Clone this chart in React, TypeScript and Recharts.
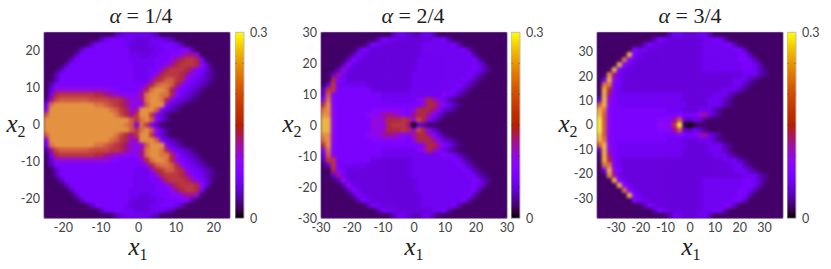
import { ScatterChart, Scatter, XAxis, YAxis, ReferenceArea, BarChart, Bar, ReferenceLine } from 'recharts'

// each char is one heatmap cell, in hundredths (base 36: 0 = 0.00, u = 0.30)
const rowsQuarter = [
  '2222222222222245666665422222222222222',
  '2222222222246777665556665422222222222',
  '2222222224777777655556677764222222222',
  '2222222477777777755555667778842222222',
  '2222224777777777766556677889cca222222',
  '22222477777777777666667779cegge722222',
  '2222477777777777776666779ceggge952222',
  '22247777777777777766677aegggec8753222',
  '2247777777777777776667aegggec87643222',
  '224777777777777777666aegkkge976543222',
  '24777777777777777777aekmmke9765432222',
  '25aaaaaaaaaaa887777aemoome97654322222',
  '27egggggggeecca9989cmoomme96543222222',
  '3cikkkkkkiiiiggeca9cmoome865432222222',
  '6moooooooommkigeca9akooo8543222222222',
  'aoooooooooooomkgeacoook75432222222222',
  'kooooooooooooomiecgoog853222222222222',
  'oooooooooooooooookgmok953222222222222',
  'oooooooooooooooomk6mg7422222222222222',
  'oooooooooooooooookgmok953222222222222',
  'kooooooooooooomiecgoog853222222222222',
  'aoooooooooooomkgeacoook75432222222222',
  '6moooooooommkigeca9akooo8543222222222',
  '3cikkkkkkiiiiggeca9cmoome865432222222',
  '27egggggggeecca9989cmoomme96543222222',
  '25aaaaaaaaaaa887777aemoome97654322222',
  '24777777777777777777aekmmke9765432222',
  '224777777777777777666aegkkge976543222',
  '2247777777777777776667aegggec87643222',
  '22247777777777777766677aegggec8753222',
  '2222477777777777776666779ceggge952222',
  '22222477777777777666667779cegge722222',
  '2222224777777777766556677889cca222222',
  '2222222477777777755555667778842222222',
  '2222222224777777655556677764222222222',
  '2222222222246777665556665422222222222',
  '2222222222222245666665422222222222222',
]

const rowsHalf = [
  '2222222222222246654466422222222222222',
  '2222222222247665555555667422222222222',
  '2222222224765555555566666674222222222',
  '2222222476555555555566666666742222222',
  '2222224765555555555566666666674222222',
  '2222248655555555555666666666667422222',
  '2222496555555555555666666666667642222',
  '2224a65555555555555666666666667643222',
  '225c755555555555556666666666676432222',
  '22e8755555555555556666666666764322222',
  '25g7666665555555556666666667643222222',
  '4gg7777777555555556666666676432222222',
  '5k87777777776666666666668764322222222',
  '9m877777777766666668aec86432222222222',
  'go877777777777777777aeec8643222222222',
  'mo97777777888888879eeec85432222222222',
  'oo9777777999ccca98ceec853222222222222',
  'qq97777777aaaeeegeaie8532222222222222',
  'qq97777777aaaegggc0542222222222222222',
  'qq97777777aaaeeegeaie8532222222222222',
  'oo9777777999ccca98ceec853222222222222',
  'mo97777777888888879eeec85432222222222',
  'go877777777777777777aeec8643222222222',
  '9m877777777766666668aec86432222222222',
  '5k87777777776666666666668764322222222',
  '4gg7777777555555556666666676432222222',
  '25g7666665555555556666666667643222222',
  '22e8755555555555556666666666764322222',
  '225c755555555555556666666666676432222',
  '2224a65555555555555666666666667643222',
  '2222496555555555555666666666667642222',
  '2222248655555555555666666666667422222',
  '2222224765555555555566666666674222222',
  '2222222476555555555566666666742222222',
  '2222222224765555555566666674222222222',
  '2222222222247665555555667422222222222',
  '2222222222222246654466422222222222222',
]

const rowsThreeQuarter = [
  '2222222222222246655566422222222222222',
  '2222222222247655555556677422222222222',
  '2222222224765555555556666774222222222',
  '2222222866555555555556666667742222222',
  '222222q765555555555556666666774222222',
  '22222m8655555555555556666666776422222',
  '2222q86555555555555556666666677642222',
  '222q765555555555555556666666677643222',
  '22oc655555555555555555555555566643222',
  '26q9755555555555555555555556664322222',
  '2mm7655555555555555555555556643222222',
  '2qe7655555555555555555555666432222222',
  '2qc7666666666666655555566643222222222',
  '4qa7666666666666655555666432222222222',
  'kq97666666666666665555666432222222222',
  'qm87777777777766655566643222222222222',
  'rk877777777777778777ac643222222222222',
  'tk877777777788 8ck54653222222222222222'.replace(' ', ''),
  'tk877777777799 9gt1012222222222222222'.replace(' ', ''),
  'tk877777777788 8ck54653222222222222222'.replace(' ', ''),
  'rk877777777777778777ac643222222222222',
  'qm87777777777766655566643222222222222',
  'kq97666666666666665555666432222222222',
  '4qa7666666666666655555666432222222222',
  '2qc7666666666666655555566643222222222',
  '2qe7655555555555555555555666432222222',
  '2mm7655555555555555555555556643222222',
  '26q9755555555555555555555556664322222',
  '22oc655555555555555555555555566643222',
  '222q765555555555555556666666677643222',
  '2222q86555555555555556666666677642222',
  '22222m8655555555555556666666776422222',
  '222222q765555555555556666666774222222',
  '2222222866555555555556666667742222222',
  '2222222224765555555556666774222222222',
  '2222222222247655555556677422222222222',
  '2222222222222246655566422222222222222',
]

const ticksQuarter = [-20, -10, 0, 10, 20]
const ticksHalf = [-30, -20, -10, 0, 10, 20, 30]
const ticksThreeQuarter = [-30, -20, -10, 0, 10, 20, 30]
const colorbarTicks = [0, 0.3]
const colorbarMinor = [0.05, 0.1, 0.15, 0.2, 0.25]
const colorbarStops = [0, 0.01, 0.02, 0.03, 0.04, 0.05, 0.06, 0.075, 0.09, 0.105, 0.12, 0.135, 0.15, 0.18, 0.21, 0.24, 0.27, 0.3]

const CB_MAX = 0.3
const GRID = 37
const PLOT = 186
const TOP = 32.3

// gnuplot rgbformulae 7,5,15
function paletteColor(v: number, tint = false) {
  const g = Math.min(1, Math.max(0, v / CB_MAX))
  const r = Math.sqrt(g)
  let gr = g * g * g
  let b = Math.max(0, Math.sin(2 * Math.PI * g))
  // the plotted cells look washed out in the hot part, the colorbar does not
  if (tint && g > 0.42) {
    b = Math.max(b, 0.26)
    gr = Math.min(1, gr + 0.06)
  }
  const hex = (n: number) => Math.round(n * 255).toString(16).padStart(2, '0')
  return `#${hex(r)}${hex(gr)}${hex(b)}`
}

function toCells(rows: string[], xDomain: number[], yDomain: number[]) {
  const dx = (xDomain[1] - xDomain[0]) / GRID
  const dy = (yDomain[1] - yDomain[0]) / GRID
  const cells: { x: number; y: number; v: number }[] = []
  rows.forEach((row, r) => {
    row.padEnd(GRID, '2').slice(0, GRID).split('').forEach((ch, c) => {
      cells.push({ x: xDomain[0] + (c + 0.5) * dx, y: yDomain[1] - (r + 0.5) * dy, v: parseInt(ch, 36) / 100 })
    })
  })
  return cells
}

const tickStyle = { fontFamily: 'Lato', fontSize: 12.5, fill: '#444' }

function HeatCell(props: any) {
  const w = PLOT / GRID + 0.6
  return <rect x={props.cx - w / 2} y={props.cy - w / 2} width={w} height={w} fill={paletteColor(props.payload.v, true)} />
}

function Panel({ left, rows, xDomain, yDomain, ticks, xTicks }: any) {
  const cells = toCells(rows, xDomain, yDomain)
  return (
    <div style={{ position: 'absolute', left: left - 40, top: 0 }}>
      <ScatterChart width={40 + PLOT + 10} height={269} margin={{ top: TOP, right: 10, bottom: 269 - TOP - PLOT - 24, left: 0 }}>
        <XAxis type="number" dataKey="x" domain={xDomain} ticks={xTicks || ticks} allowDataOverflow interval={0} height={24} tick={tickStyle} tickLine={false} tickSize={0} axisLine={false} tickMargin={5} />
        <YAxis type="number" dataKey="y" domain={yDomain} ticks={ticks} allowDataOverflow interval={0} width={40} tick={tickStyle} tickLine={false} tickSize={0} axisLine={false} tickMargin={4} />
        <ReferenceArea x1={xDomain[0]} x2={xDomain[1]} y1={yDomain[0]} y2={yDomain[1]} fill="#43016d" fillOpacity={1} stroke="none" />
        <Scatter data={cells} isAnimationActive={false} shape={HeatCell} />
        <ReferenceArea x1={xDomain[0]} x2={xDomain[1]} y1={yDomain[0]} y2={yDomain[1]} fill="none" stroke="#a9a9a9" />
      </ScatterChart>
    </div>
  )
}

function ColorBar({ left, id }: any) {
  return (
    <div style={{ position: 'absolute', left, top: 0 }}>
      <BarChart width={45} height={269} data={[{ v: CB_MAX }]} barCategoryGap={0} margin={{ top: TOP, right: 0, bottom: 269 - TOP - PLOT, left: 0 }}>
        <defs>
          <linearGradient id={id} x1="0" y1="1" x2="0" y2="0">
            {colorbarStops.map((s) => (
              <stop key={s} offset={s / CB_MAX} stopColor={paletteColor(s)} />
            ))}
          </linearGradient>
        </defs>
        <XAxis hide />
        <YAxis orientation="right" domain={[0, CB_MAX]} ticks={colorbarTicks} width={36} interval={0} tick={tickStyle} tickLine={false} tickSize={0} axisLine={false} tickMargin={6} tickFormatter={(t: number) => String(t)} />
        <Bar dataKey="v" fill={`url(#${id})`} stroke="#bbb" isAnimationActive={false} />
        {colorbarMinor.map((m) => (
          <ReferenceLine key={m} y={m} stroke="#333" strokeOpacity={0.3} strokeDasharray="2 5 2" />
        ))}
      </BarChart>
    </div>
  )
}

const serif = { position: 'absolute', fontFamily: 'Liberation Serif', color: '#222', whiteSpace: 'nowrap', transform: 'translate(-50%, -50%)', lineHeight: 0.7 } as const

function Title({ x, text }: any) {
  return (
    <div style={{ ...serif, left: x, top: 16, fontSize: 22 }}>
      <i>α</i> = {text}
    </div>
  )
}

function VarLabel({ x, y, sub }: any) {
  return (
    <div style={{ ...serif, left: x, top: y, fontSize: 25 }}>
      <i>x</i>
      <span style={{ fontSize: 16, position: 'relative', top: 5 }}>{sub}</span>
    </div>
  )
}

export default function App() {
  return (
    <div style={{ position: 'absolute', left: 0, top: 0, width: 831, height: 269, background: '#fff', overflow: 'hidden' }}>
      <style>{`.recharts-scatter { filter: blur(1.8px); clip-path: inset(0); }`}</style>
      <Panel left={44.3} rows={rowsQuarter} xDomain={[-25.15, 24.35]} yDomain={[-25.2, 25]} ticks={ticksQuarter} />
      <ColorBar left={234.7} id="cb1" />
      <Title x={141} text="1/4" />
      <VarLabel x={16} y={124} sub="2" />
      <VarLabel x={138} y={247} sub="1" />

      <Panel left={320.7} rows={rowsHalf} xDomain={[-30, 30]} yDomain={[-30, 30]} ticks={ticksHalf} />
      <ColorBar left={511} id="cb2" />
      <Title x={413} text="2/4" />
      <VarLabel x={292} y={124} sub="2" />
      <VarLabel x={414} y={247} sub="1" />

      <Panel left={596.7} rows={rowsThreeQuarter} xDomain={[-37.7, 37.5]} yDomain={[-38.3, 38]} ticks={ticksThreeQuarter} />
      <ColorBar left={787} id="cb3" />
      <Title x={690} text="3/4" />
      <VarLabel x={568} y={124} sub="2" />
      <VarLabel x={691} y={247} sub="1" />
    </div>
  )
}
